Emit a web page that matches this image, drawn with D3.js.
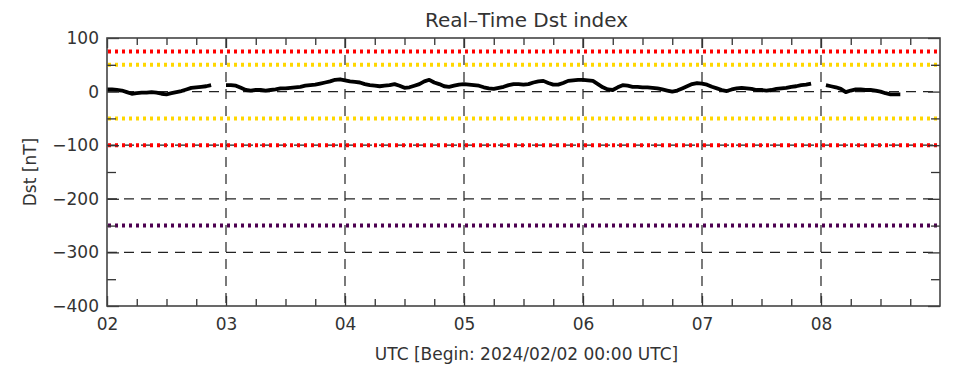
<!DOCTYPE html>
<html>
<head>
<meta charset="utf-8">
<script src="https://cdn.jsdelivr.net/npm/d3@7.9.0/dist/d3.min.js"></script>
<style>
  body { margin: 0; background: #fff; }
  svg { display: block; }
  text { font-family: "DejaVu Sans", sans-serif; fill: #333; }
</style>
</head>
<body>
<svg id="chart" width="979" height="366"></svg>
<script>
// hourly Dst values from 2024/02/02 00:00 UTC (null = no data)
const dst = [
  4, 4, 3, 2, -1, -4, -3, -2, -2, -1, -2, -4, -5, -3, -1, 1, 4, 7, 8, 9, 10, 12, null, null,
  12, 12, 11, 7, 3, 2, 3, 3, 2, 3, 4, 6, 6, 7, 8, 9, 11, 12, 13, 15, 17, 19, 22, 23,
  21, 19, 18, 17, 14, 12, 11, 10, 11, 12, 14, 11, 7, 8, 11, 14, 19, 22, 17, 14, 10, 9, 11, 13,
  14, 13, 12, 11, 8, 6, 5, 7, 9, 12, 14, 14, 13, 14, 17, 19, 20, 16, 13, 13, 16, 20, 21, 22,
  22, 21, 20, 14, 8, 4, 3, 8, 12, 11, 9, 9, 8, 8, 7, 6, 4, 2, 0, 2, 6, 10, 14, 16,
  15, 13, 9, 6, 3, 1, 4, 6, 7, 6, 5, 3, 3, 2, 3, 5, 6, 7, 9, 10, 12, 13, 15, null,
  null, 12, 10, 8, 5, -1, 2, 4, 4, 3, 3, 2, 0, -3, -5, -5, -5
];
const startTime = Date.UTC(2024, 1, 2);
const endTime = Date.UTC(2024, 1, 9);

const yTicks = [100, 0, -100, -200, -300, -400];
const yMinor = [50, -50, -150, -250, -350];
const gridLevels = [0, -100, -200, -300];

// storm levels drawn as dotted lines
const levels = [75, 50, -50, -100, -250];
const levelColors = ['#ff0000', '#ffd700', '#ffd700', '#ff0000', '#4d0050'];

const title = 'Real\u2013Time Dst index';
const xTitle = 'UTC [Begin: 2024/02/02 00:00 UTC]';
const yTitle = 'Dst [nT]';

const margin = {top: 38, right: 39, bottom: 60, left: 107};
const width = 979 - margin.left - margin.right;
const height = 366 - margin.top - margin.bottom;

const svg = d3.select('#chart');
const g = svg.append('g').attr('transform', `translate(${margin.left},${margin.top})`);

const x = d3.scaleUtc().domain([startTime, endTime]).range([0, width]);
const y = d3.scaleLinear().domain([-400, 100]).range([height, 0]);

const days = d3.utcDay.range(startTime, endTime);
const sixHours = d3.utcHour.every(6).range(startTime, endTime).filter(t => t.getUTCHours() !== 0);

// dashed grid
g.selectAll('.vgrid').data(days.slice(1)).join('line')
  .attr('x1', d => x(d)).attr('x2', d => x(d))
  .attr('y1', 0).attr('y2', height)
  .attr('stroke', '#222').attr('stroke-width', 1.2)
  .attr('stroke-dasharray', '10,7');
g.selectAll('.hgrid').data(gridLevels).join('line')
  .attr('x1', 0).attr('x2', width)
  .attr('y1', d => y(d)).attr('y2', d => y(d))
  .attr('stroke', '#222').attr('stroke-width', 1.2)
  .attr('stroke-dasharray', '10,7');

// dotted level lines
g.selectAll('.level').data(levels).join('line')
  .attr('x1', 1).attr('x2', width - 3)
  .attr('y1', d => y(d)).attr('y2', d => y(d))
  .attr('stroke', (d, i) => levelColors[i])
  .attr('stroke-width', 4)
  .attr('stroke-dasharray', '3,4');

// Dst line
const line = d3.line()
  .defined(d => d != null)
  .x((d, i) => x(startTime + i * 3600e3))
  .y(d => y(d));
g.append('path')
  .attr('d', line(dst))
  .attr('fill', 'none')
  .attr('stroke', '#000')
  .attr('stroke-width', 3.8)
  .attr('stroke-linejoin', 'round');

// axes with inward ticks
const axisStyle = sel => {
  sel.select('.domain').remove();
  sel.selectAll('line').attr('stroke', '#333').attr('stroke-width', 1.3);
  sel.selectAll('text').style('font-size', '17px').attr('fill', '#333');
};

g.append('g').attr('transform', `translate(0,${height})`)
  .call(d3.axisBottom(x).tickValues(days).tickSize(-10).tickPadding(12)
    .tickFormat(d3.utcFormat('%d')))
  .call(axisStyle);
g.append('g').attr('transform', `translate(0,${height})`)
  .call(d3.axisBottom(x).tickValues(sixHours).tickSize(-7).tickFormat(''))
  .call(axisStyle);
g.append('g')
  .call(d3.axisTop(x).tickValues(days).tickSize(-10).tickFormat(''))
  .call(axisStyle);
g.append('g')
  .call(d3.axisTop(x).tickValues(sixHours).tickSize(-7).tickFormat(''))
  .call(axisStyle);

const yFmt = d => (d < 0 ? '\u2212' + Math.abs(d) : d);
g.append('g')
  .call(d3.axisLeft(y).tickValues(yTicks).tickSize(-12).tickPadding(8).tickFormat(yFmt))
  .call(axisStyle);
g.append('g')
  .call(d3.axisLeft(y).tickValues(yMinor).tickSize(-9).tickFormat(''))
  .call(axisStyle);
g.append('g').attr('transform', `translate(${width},0)`)
  .call(d3.axisRight(y).tickValues(yTicks).tickSize(-12).tickFormat(''))
  .call(axisStyle);
g.append('g').attr('transform', `translate(${width},0)`)
  .call(d3.axisRight(y).tickValues(yMinor).tickSize(-9).tickFormat(''))
  .call(axisStyle);

// frame
g.append('rect')
  .attr('width', width).attr('height', height)
  .attr('fill', 'none').attr('stroke', '#444').attr('stroke-width', 1.6);

// titles
svg.append('text')
  .attr('x', margin.left + width / 2 + 3).attr('y', 27)
  .attr('text-anchor', 'middle').style('font-size', '20px')
  .text(title);
svg.append('text')
  .attr('x', margin.left + width / 2 + 3).attr('y', 360)
  .attr('text-anchor', 'middle').style('font-size', '17px')
  .text(xTitle);
svg.append('text')
  .attr('transform', `translate(36,${margin.top + height / 2}) rotate(-90)`)
  .attr('text-anchor', 'middle').style('font-size', '17px')
  .text(yTitle);
</script>
</body>
</html>
